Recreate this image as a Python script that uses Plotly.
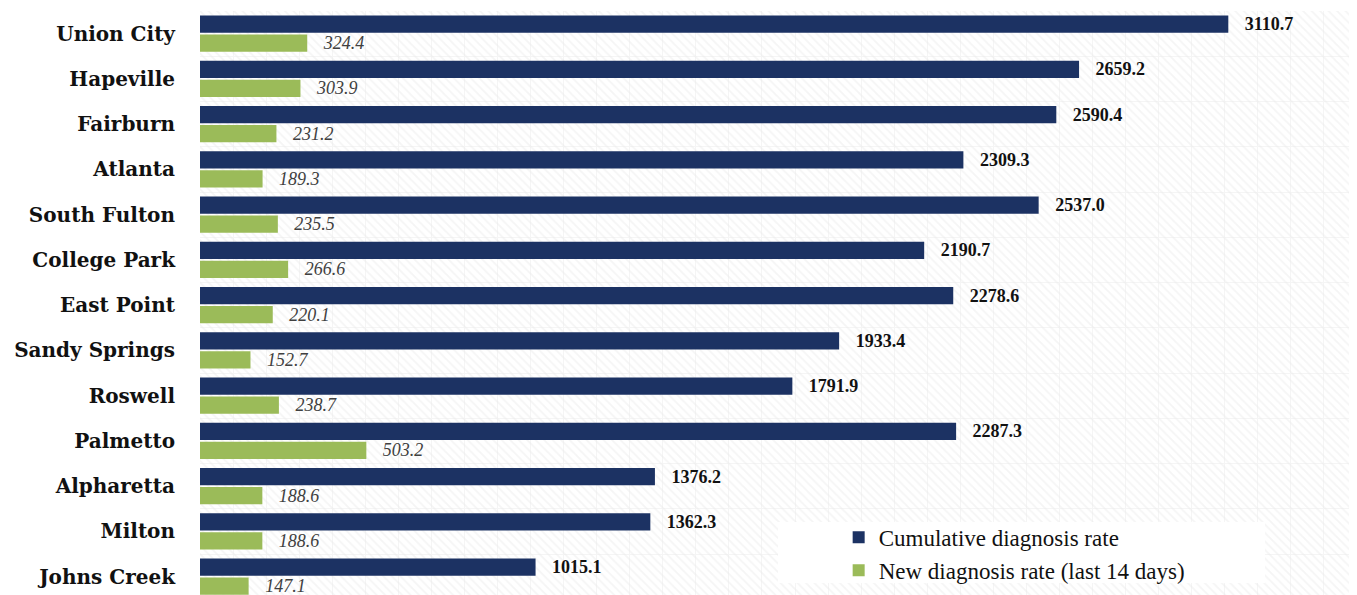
import plotly.graph_objects as go

cities = ["Union City", "Hapeville", "Fairburn", "Atlanta", "South Fulton", "College Park",
          "East Point", "Sandy Springs", "Roswell", "Palmetto", "Alpharetta", "Milton", "Johns Creek"]
cumulative = [3110.7, 2659.2, 2590.4, 2309.3, 2537.0, 2190.7, 2278.6, 1933.4, 1791.9, 2287.3, 1376.2, 1362.3, 1015.1]
new14 = [324.4, 303.9, 231.2, 189.3, 235.5, 266.6, 220.1, 152.7, 238.7, 503.2, 188.6, 188.6, 147.1]

X_MAX = 3500
n = len(cities)
ypos = list(range(n))
y_bottom = -0.5 + 584 / 45.25

NAVY = "#1c3263"
GREEN = "#9bbb59"
SERIF = "Liberation Serif"
NBSP = "\u00a0"

fig = go.Figure()

# faint hatched background
fig.add_trace(go.Bar(
    x=[X_MAX], y=[(n - 1) / 2], base=0, width=[n + 2], orientation="h",
    marker=dict(color="rgba(0,0,0,0)", line=dict(width=0),
                pattern=dict(shape="\\", fgcolor="#ebebeb", bgcolor="rgba(0,0,0,0)",
                             size=6, solidity=0.3, fillmode="overlay")),
    showlegend=False, hoverinfo="skip",
))

fig.add_trace(go.Bar(
    name="Cumulative diagnosis rate", x=cumulative, y=ypos, orientation="h",
    width=0.38, offset=-0.4, marker=dict(color=NAVY, line=dict(width=0)),
    texttemplate=NBSP * 3 + "%{x:.1f}", textposition="outside", constraintext="none",
    cliponaxis=False,
    textfont=dict(family=SERIF, size=18, color="#111111", weight="bold"),
))
fig.add_trace(go.Bar(
    name="New diagnosis rate (last 14 days)", x=new14, y=ypos, orientation="h",
    width=0.38, offset=0.02, marker=dict(color=GREEN, line=dict(width=0)),
    texttemplate=NBSP * 3 + "%{x:.1f}", textposition="outside", constraintext="none",
    cliponaxis=False,
    textfont=dict(family=SERIF, size=18, color="#404040", style="italic"),
))

fig.add_shape(type="rect", xref="paper", yref="paper", x0=0.4996, x1=0.9205, y0=0.0205, y1=0.125,
              fillcolor="white", line=dict(width=0), layer="above")

fig.update_layout(
    width=1349, height=587,
    margin=dict(l=192, r=0, t=3, b=0, autoexpand=False),
    barmode="overlay",
    paper_bgcolor="white", plot_bgcolor="white",
    font=dict(family=SERIF, color="#111111"),
    legend=dict(x=0.552, y=0.1356, xanchor="left", yanchor="top", bgcolor="rgba(0,0,0,0)",
                font=dict(family=SERIF, size=23, color="#111111"), tracegroupgap=0,
                itemwidth=30),
    xaxis=dict(range=[0, X_MAX], showticklabels=False, showgrid=True, gridcolor="#f5f5f5",
               dtick=100, zeroline=False, showline=False, fixedrange=True, automargin=False),
    yaxis=dict(range=[y_bottom, -0.5], tickvals=ypos, ticktext=cities, showgrid=False,
               zeroline=False, showline=False, ticks="", ticklabelstandoff=24, automargin=False,
               tickfont=dict(family="DejaVu Serif", size=20, color="#111111", weight="bold"),
               minor=dict(tick0=0.5, dtick=1, showgrid=True, gridcolor="#f5f5f5")),
    showlegend=True,
)

fig.write_html("out.html")
